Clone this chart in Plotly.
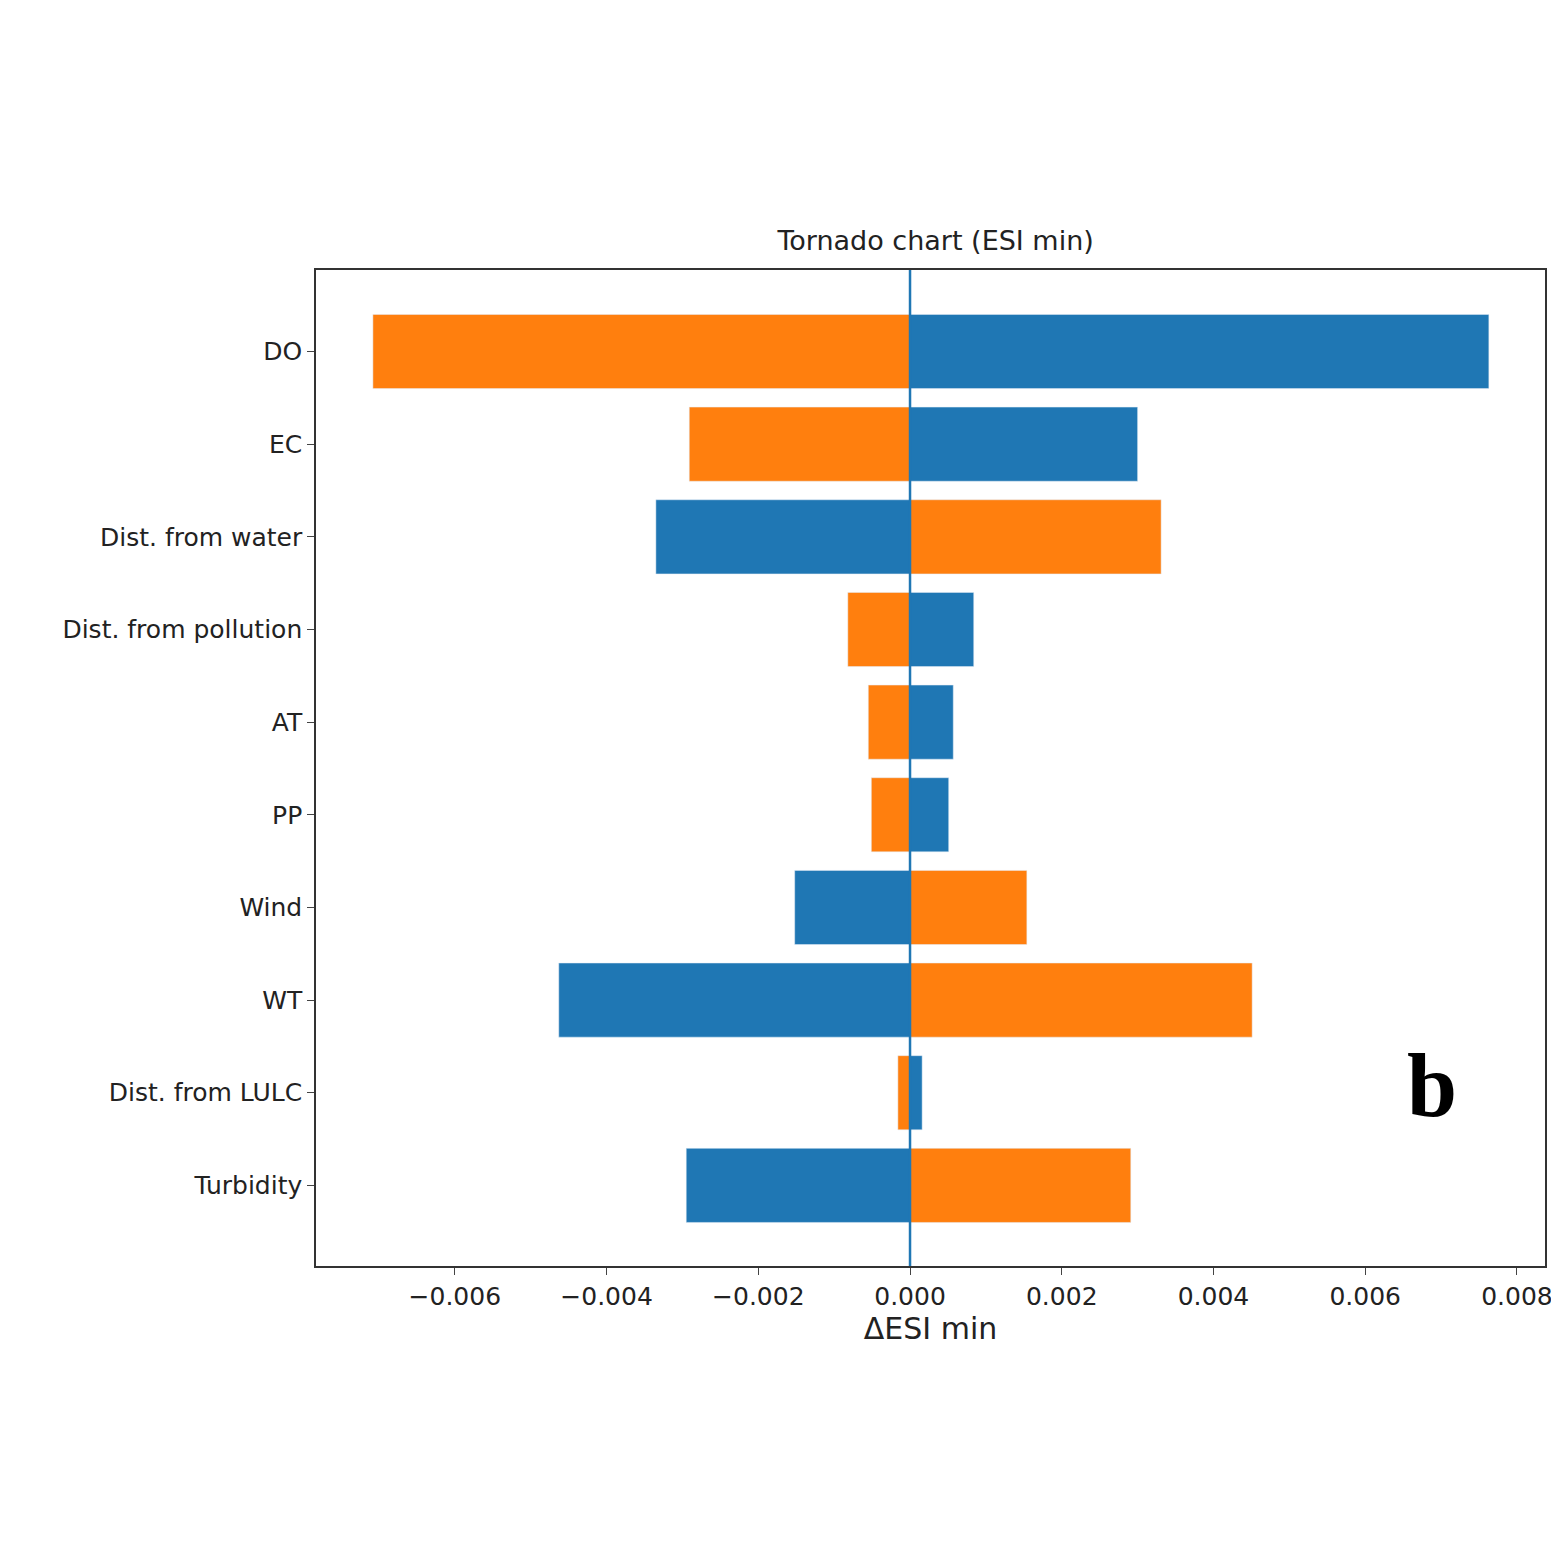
import plotly.graph_objects as go

categories = ["DO", "EC", "Dist. from water", "Dist. from pollution", "AT", "PP",
              "Wind", "WT", "Dist. from LULC", "Turbidity"]
blue_vals = [0.00763, 0.00300, -0.00335, 0.00084, 0.00057, 0.00051,
             -0.00152, -0.00463, 0.00016, -0.00295]
orange_vals = [-0.00708, -0.00291, 0.00331, -0.00082, -0.00055, -0.00051,
               0.00154, 0.00451, -0.00016, 0.00291]
xticks = [-0.006, -0.004, -0.002, 0.0, 0.002, 0.004, 0.006, 0.008]
xticklabels = ["\u22120.006", "\u22120.004", "\u22120.002", "0.000", "0.002", "0.004", "0.006", "0.008"]

fig = go.Figure()
fig.add_trace(go.Bar(y=categories, x=blue_vals, orientation="h",
                     marker_color="#1f77b4", width=0.8))
fig.add_trace(go.Bar(y=categories, x=orange_vals, orientation="h",
                     marker_color="#ff7f0e", width=0.8))

fig.add_vline(x=0, line_color="#1f77b4", line_width=2.5)

fig.add_annotation(x=0.93, y=0.13, xref="paper", yref="paper", text="<b>b</b>",
                   showarrow=False, font=dict(family="Liberation Serif", size=90, color="black"))

fig.update_layout(
    width=1559, height=1559, barmode="overlay", showlegend=False,
    plot_bgcolor="white", paper_bgcolor="white",
    font=dict(family="DejaVu Sans", size=25, color="#222"),
    margin=dict(l=308, r=22, t=262, b=301),
    title=dict(text="Tornado chart (ESI min)", x=0.595, xanchor="center",
               y=1 - 233 / 1559, yanchor="middle", font=dict(size=27)),
)
fig.update_xaxes(range=[-0.00783, 0.00837], tickvals=xticks, ticktext=xticklabels,
                 ticks="outside", ticklen=7, showgrid=False, zeroline=False,
                 showline=True, mirror=True, linecolor="#333", linewidth=1.5,
                 title=dict(text="\u0394ESI min", standoff=5))
fig.update_yaxes(range=[9.87, -0.88], ticks="outside", ticklen=7, showgrid=False,
                 showline=True, mirror=True, linecolor="#333", linewidth=1.5)

fig.write_html("out.html")
